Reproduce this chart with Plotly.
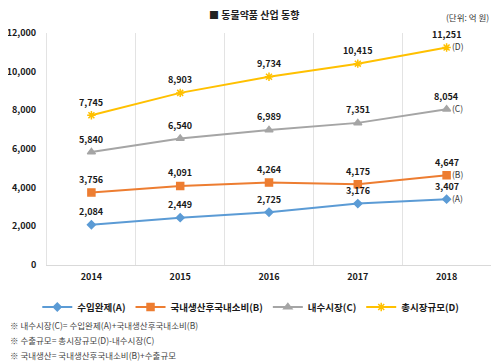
import plotly.graph_objects as go

years = ["2014", "2015", "2016", "2017", "2018"]
series_names = ["수입완제(A)", "국내생산후국내소비(B)", "내수시장(C)", "총시장규모(D)"]
series_tags = ["(A)", "(B)", "(C)", "(D)"]
val_a = [2084, 2449, 2725, 3176, 3407]
val_b = [3756, 4091, 4264, 4175, 4647]
val_c = [5840, 6540, 6989, 7351, 8054]
val_d = [7745, 8903, 9734, 10415, 11251]
y_ticks = [0, 2000, 4000, 6000, 8000, 10000, 12000]
footnotes = [
    "※ 내수시장(C)= 수입완제(A)+국내생산후국내소비(B)",
    "※ 수출규모= 총시장규모(D)-내수시장(C)",
    "※ 국내생산= 국내생산후국내소비(B)+수출규모",
]

colors = ["#5B9BD5", "#ED7D31", "#A5A5A5", "#FFC000"]
symbols = ["diamond", "square", "triangle-up", "asterisk-open"]
sizes = [6, 7, 7, 7]
FONT = "Noto Sans CJK KR"

xs = list(range(len(years)))
fig = go.Figure()
annotations = []
for name, tag, vals, col, sym, sz in zip(series_names, series_tags,
                                         [val_a, val_b, val_c, val_d],
                                         colors, symbols, sizes):
    fig.add_trace(go.Scatter(
        x=xs, y=vals, name=name, mode="lines+markers",
        line=dict(color=col, width=2),
        marker=dict(symbol=sym, size=sz, color=col, line=dict(color=col, width=1.5)),
        cliponaxis=False,
    ))
    for x, v in zip(xs, vals):
        annotations.append(dict(
            x=x, y=v, xref="x", yref="y", text=f"{v:,}", showarrow=False,
            xanchor="center", yanchor="middle", yshift=13,
            font=dict(family=FONT, size=9, color="#1a1a1a", weight="bold")))
    annotations.append(dict(
        x=xs[-1], y=vals[-1], xref="x", yref="y", text=tag, showarrow=False,
        xanchor="left", yanchor="middle", xshift=3, yshift=1,
        font=dict(family=FONT, size=8.5, color="#333333")))

annotations += [
    dict(text="<b>■ 동물약품 산업 동향</b>", x=0.466, y=1.08, xref="paper", yref="paper",
         showarrow=False, font=dict(family=FONT, size=10, color="#222222"),
         xanchor="center", yanchor="middle"),
    dict(text="(단위: 억 원)", x=1.0, y=1.068, xref="paper", yref="paper",
         showarrow=False, font=dict(family=FONT, size=8.5, color="#333333"),
         xanchor="right", yanchor="middle"),
]
for i, t in enumerate(footnotes):
    annotations.append(dict(
        text=t, x=-0.087, y=-0.259 - 0.065 * i, xref="paper", yref="paper",
        showarrow=False, font=dict(family=FONT, size=8.5, color="#444444"),
        xanchor="left", yanchor="middle"))

# the page body adds an 8px offset, so the figure is 492x356
fig.update_layout(
    width=492, height=356,
    margin=dict(l=39, r=9, t=25, b=99, autoexpand=False),
    plot_bgcolor="white", paper_bgcolor="white",
    font=dict(family=FONT),
    xaxis=dict(
        range=[-0.5, len(years) - 0.5], tickvals=xs, ticktext=years,
        showgrid=False, zeroline=False,
        showline=True, linecolor="#d9d9d9", linewidth=1, mirror=False,
        ticks="", ticklabelstandoff=3,
        tickfont=dict(family=FONT, size=9, color="#1a1a1a", weight="bold"),
        minor=dict(tickvals=[i + 0.5 for i in xs], showgrid=True,
                   gridcolor="#e3e3e3", gridwidth=1, ticks=""),
    ),
    yaxis=dict(
        range=[0, 12000], tickvals=y_ticks, tickformat=",",
        showgrid=False, zeroline=False,
        showline=True, linecolor="#e3e3e3", linewidth=1,
        ticks="", ticklabelstandoff=8,
        tickfont=dict(family=FONT, size=9, color="#1a1a1a", weight="bold"),
    ),
    legend=dict(
        orientation="h", x=0.459, xanchor="center", y=-0.181, yanchor="middle",
        font=dict(family=FONT, size=9.5, color="#1a1a1a", weight="bold"),
        itemwidth=30, tracegroupgap=0, bgcolor="rgba(0,0,0,0)",
    ),
    annotations=annotations,
    showlegend=True,
)

fig.write_html("out.html")
